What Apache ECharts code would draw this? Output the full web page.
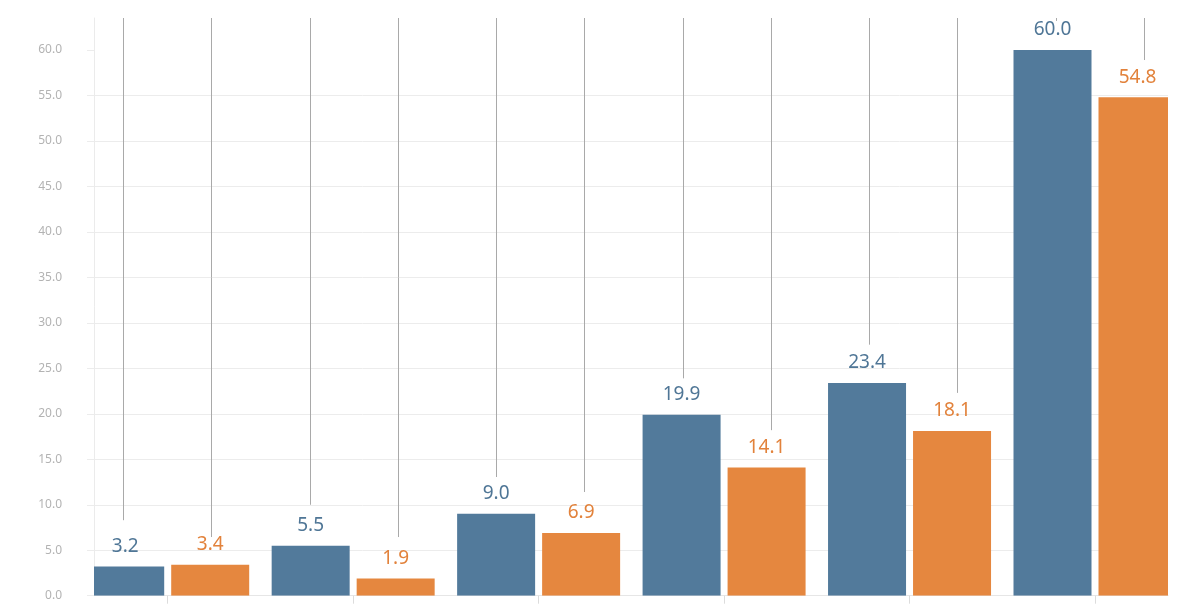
<!DOCTYPE html>
<html>
<head>
<meta charset="utf-8">
<script src="https://cdn.jsdelivr.net/npm/echarts@6/dist/echarts.min.js"></script>
<style>
  html, body { margin: 0; padding: 0; background: #ffffff; }
  #chart { width: 1200px; height: 615px; }
</style>
</head>
<body>
<div id="chart"></div>
<script>
// ---- data ----
var categories = ['1', '2', '3', '4', '5', '6'];
var seriesBlue = [3.2, 5.5, 9.0, 19.9, 23.4, 60.0];
var seriesOrange = [3.4, 1.9, 6.9, 14.1, 18.1, 54.8];
// value at which each vertical guide line ends (lines hang from the top of the plot)
var guideEndBlue = [8.3, 10.0, 13.05, 23.9, 27.6, 63.2];
var guideEndOrange = [6.45, 6.45, 11.4, 18.2, 22.3, 58.9];
var yTickValues = [0, 5, 10, 15, 20, 25, 30, 35, 40, 45, 50, 55, 60];
var yMax = 63.52;

// ---- styles ----
var BLUE = '#527a9b';
var ORANGE = '#e5873f';
var BLUE_TXT = '#4f7696';
var ORANGE_TXT = '#e2823b';
var GRID_CLR = '#ececec';
var FONT = '"Noto Sans", "Open Sans", sans-serif';
var BAR_W = 78;
var BAR_OFF = 42.5;      // half distance between the two bars' centres (px)
var GUIDE_OFF = 44;      // half distance between the two guide lines (px)
var LABEL_LIFT = 20;     // px from bar top to label middle

var idx = categories.map(function (c, i) { return i; });

var chart = echarts.init(document.getElementById('chart'), null, { renderer: 'canvas' });

function pairData(arr) { return arr.map(function (v, i) { return [idx[i], v]; }); }

function barRenderer(side, color, txtColor) {
  return function (params, api) {
    var i = api.value(0), v = api.value(1);
    var topPt = api.coord([i, v]);
    var basePt = api.coord([i, 0]);
    var cx = topPt[0] + side * BAR_OFF;
    return {
      type: 'group',
      children: [
        {
          type: 'rect',
          shape: { x: cx - BAR_W / 2, y: topPt[1], width: BAR_W, height: basePt[1] - topPt[1] },
          style: { fill: color }
        }
      ]
    };
  };
}

function labelRenderer(side, txtColor) {
  return function (params, api) {
    var i = api.value(0), v = api.value(1);
    var p = api.coord([i, v]);
    return {
      type: 'text',
      style: {
        text: v.toFixed(1),
        x: p[0] + side * BAR_OFF,
        y: p[1] - LABEL_LIFT,
        align: 'center',
        verticalAlign: 'middle',
        fill: txtColor,
        font: '19px ' + FONT
      }
    };
  };
}

function guideRenderer(side) {
  return function (params, api) {
    var i = api.value(0), end = api.value(1);
    var top = api.coord([i, yMax]);
    var bot = api.coord([i, end]);
    var x = Math.round(top[0] + side * GUIDE_OFF) + 0.5;
    return {
      type: 'line',
      shape: { x1: x, y1: top[1], x2: x, y2: bot[1] },
      style: { stroke: '#a9a9a9', lineWidth: 1 }
    };
  };
}

var option = {
  animation: false,
  backgroundColor: '#ffffff',
  grid: { left: 94, right: 32, top: 18, bottom: 19.3, containLabel: false },
  xAxis: [
    {
      type: 'value',
      min: -0.3974,
      max: 5.3936,
      axisLine: { show: true, onZero: false, lineStyle: { color: '#e6e6e6', width: 1 } },
      axisTick: { show: true, customValues: idx, length: 8, lineStyle: { color: '#dcdcdc' } },
      axisLabel: { show: false },
      splitLine: { show: false }
    },
    {
      type: 'value',
      min: -0.3914,
      max: 5.367,
      show: false
    }
  ],
  yAxis: {
    type: 'value',
    min: 0,
    max: yMax,
    interval: 5,
    axisLine: { show: true, onZero: false, lineStyle: { color: '#ebebeb', width: 1 } },
    axisTick: { show: true, customValues: yTickValues, length: 7, lineStyle: { color: GRID_CLR } },
    axisLabel: {
      customValues: yTickValues,
      margin: 32,
      color: '#b3b3b3',
      fontSize: 12,
      fontFamily: FONT,
      formatter: function (v) { return Number(v).toFixed(1); }
    },
    splitLine: { show: true, showMaxLine: false, lineStyle: { color: GRID_CLR, width: 1 } }
  },
  series: [
    { type: 'custom', name: 'guide-blue', xAxisIndex: 1, z: 1, data: pairData(guideEndBlue), renderItem: guideRenderer(-1) },
    { type: 'custom', name: 'guide-orange', xAxisIndex: 1, z: 1, data: pairData(guideEndOrange), renderItem: guideRenderer(1) },
    { type: 'custom', name: 'blue', xAxisIndex: 0, z: 2, clip: true, data: pairData(seriesBlue), renderItem: barRenderer(-1, BLUE) },
    { type: 'custom', name: 'orange', xAxisIndex: 0, z: 2, clip: true, data: pairData(seriesOrange), renderItem: barRenderer(1, ORANGE) },
    { type: 'custom', name: 'label-blue', xAxisIndex: 0, z: 3, clip: false, data: pairData(seriesBlue), renderItem: labelRenderer(-1, BLUE_TXT) },
    { type: 'custom', name: 'label-orange', xAxisIndex: 0, z: 3, clip: false, data: pairData(seriesOrange), renderItem: labelRenderer(1, ORANGE_TXT) }
  ]
};
chart.setOption(option);
</script>
</body>
</html>
